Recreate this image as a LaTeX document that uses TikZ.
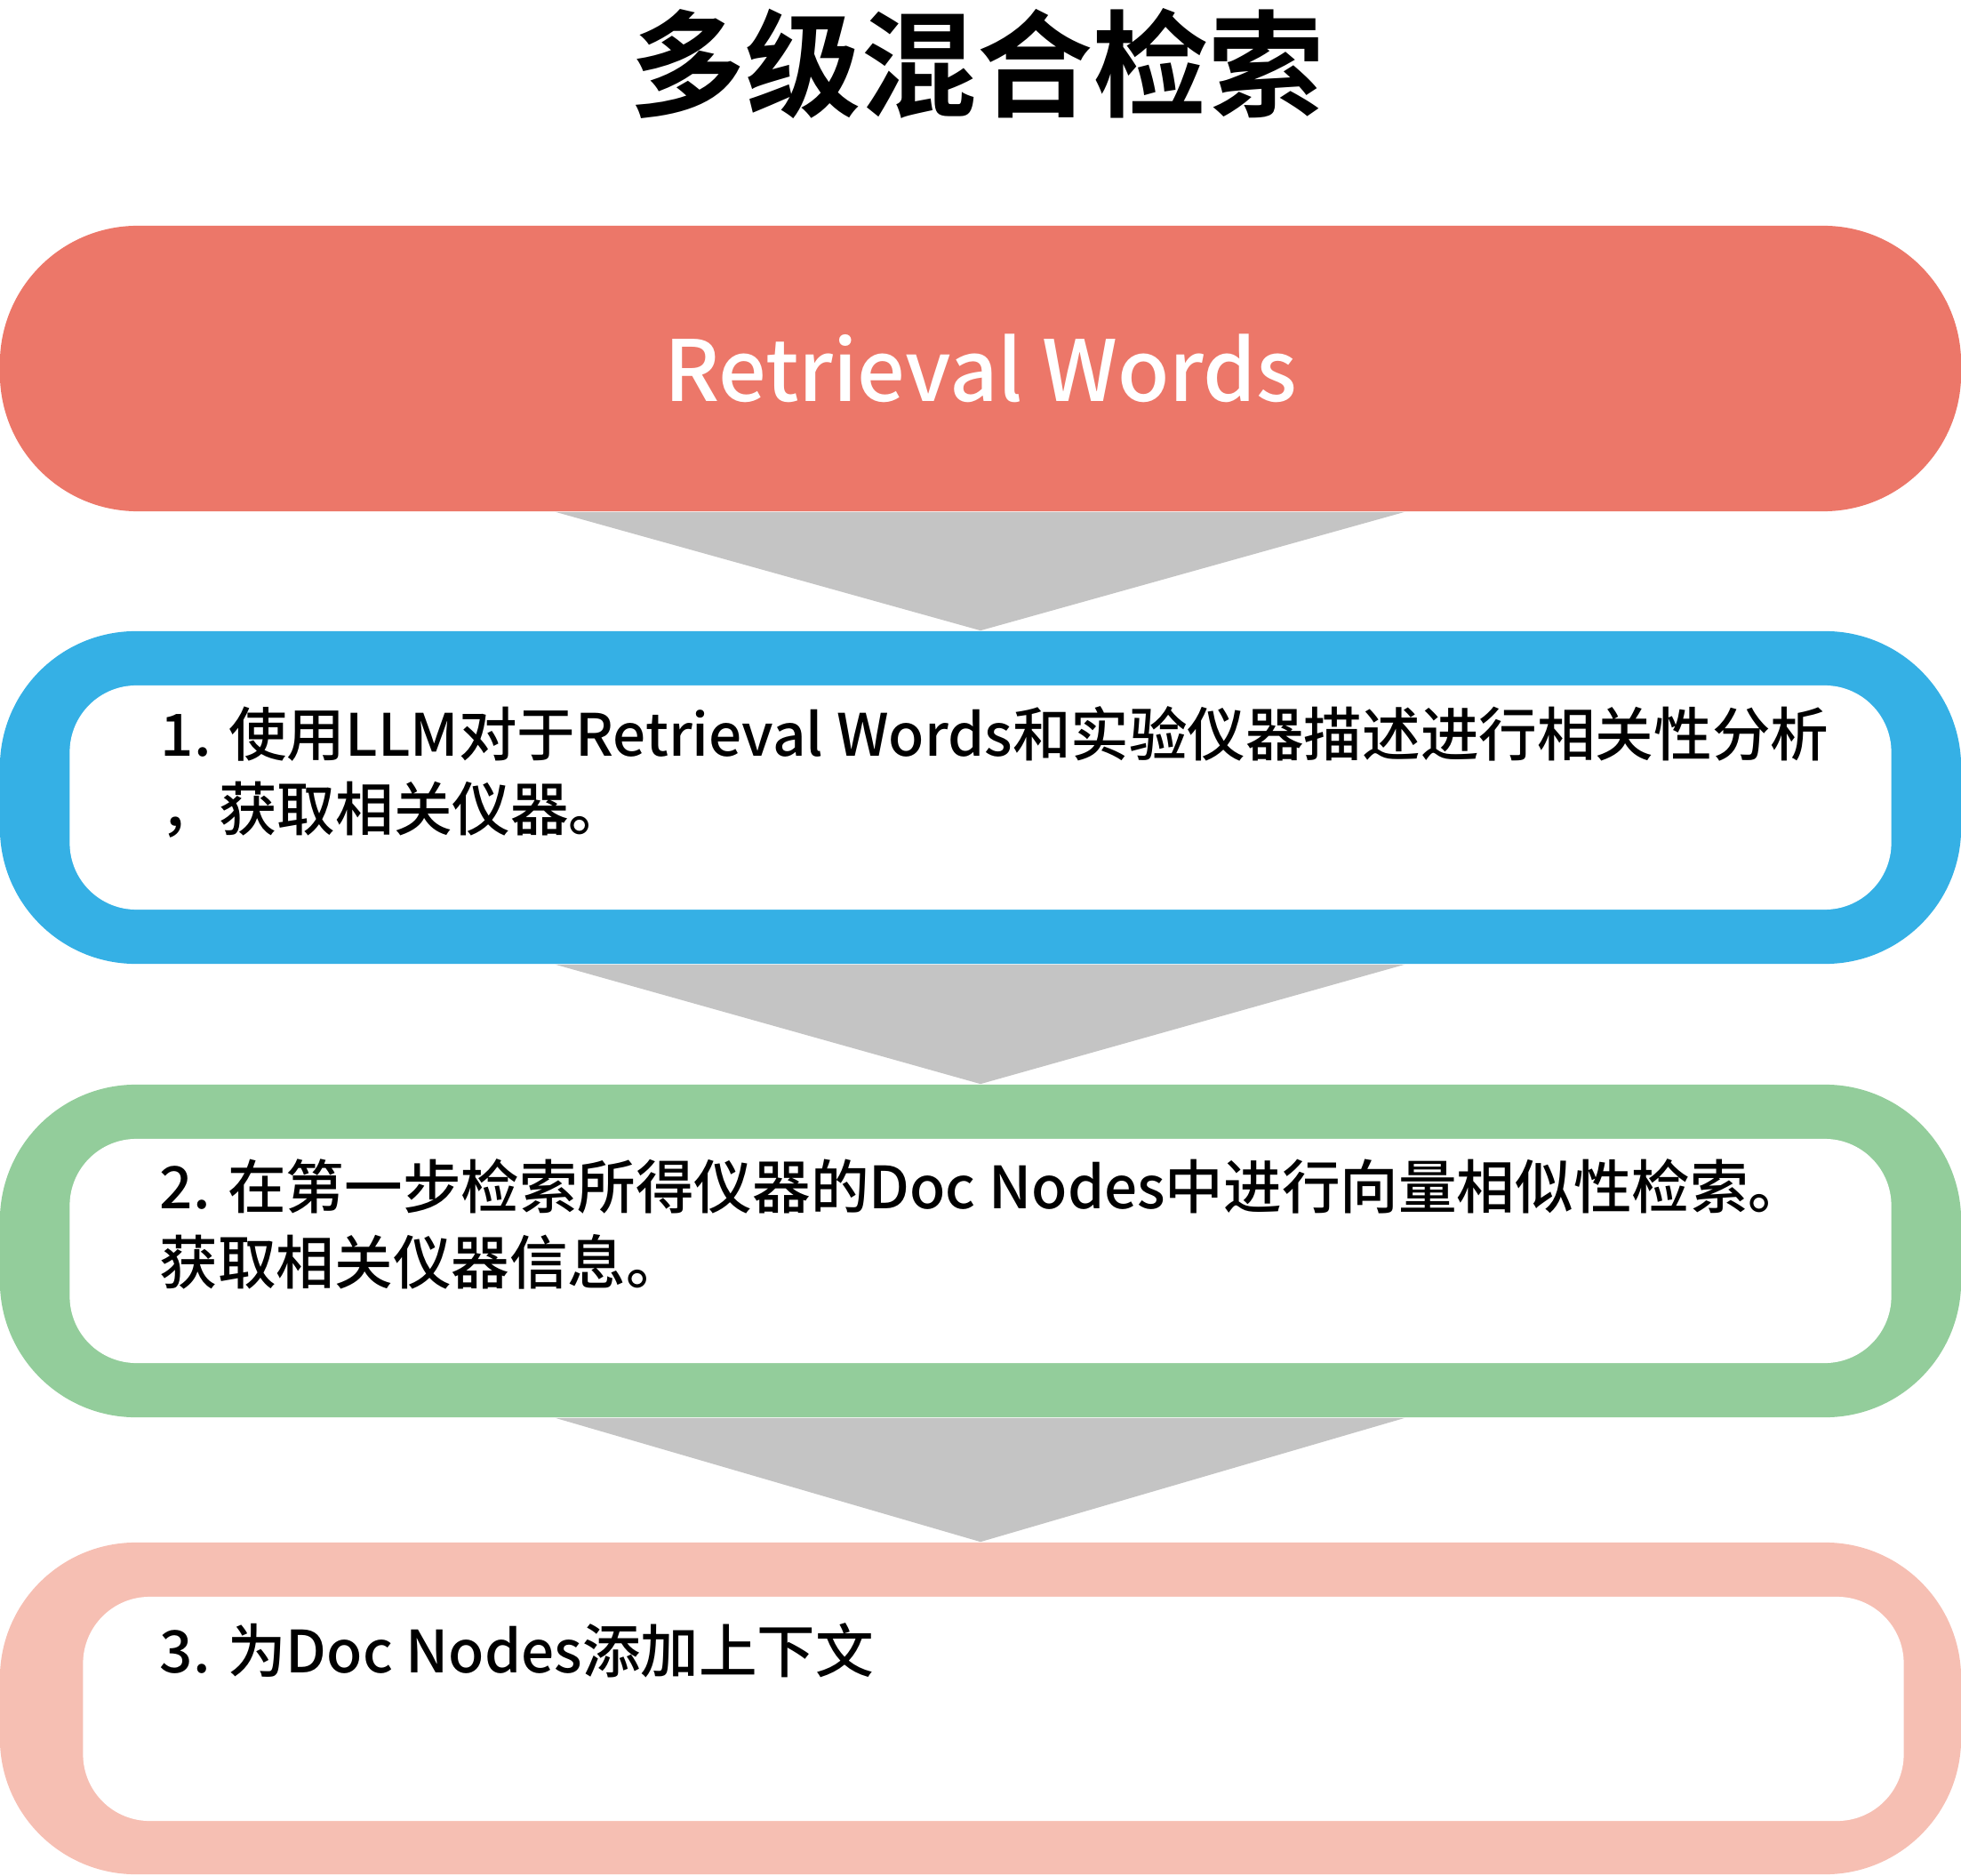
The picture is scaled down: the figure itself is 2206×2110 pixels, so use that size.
\documentclass[tikz,border=0pt]{standalone}
\usepackage{fontspec}
\setmainfont{Noto Sans CJK SC Medium}[BoldFont={Noto Sans CJK SC Bold}]
\usepackage{tikz}
\definecolor{wordsred}{HTML}{EC7769}
\definecolor{stepblue}{HTML}{35B0E5}
\definecolor{stepgreen}{HTML}{93CD9B}
\definecolor{steppink}{HTML}{F6BFB3}
\definecolor{arrowgray}{HTML}{C4C4C4}
\tikzset{
	outer/.style={rectangle,rounded corners=1.53cm,inner sep=0pt,minimum width=22.05cm,minimum height=3.74cm},
	inner/.style={rectangle,rounded corners=0.75cm,fill=white,inner sep=0pt,minimum width=20.48cm,minimum height=2.52cm},
	desc/.style={anchor=base west,align=left,inner sep=0pt,font=\fontsize{18.65pt}{23.9pt}\selectfont},
	funnel/.style={fill=arrowgray}
}

\begin{document}
\begin{tikzpicture}[x=0.01cm,y=-0.01cm]
	\useasboundingbox (0,0) rectangle (2206,2110);
	\node [anchor=base,inner sep=0pt,font=\fontsize{37pt}{37pt}\bfseries\selectfont] (title) at (1099,122) {多级混合检索};

	\node [outer,fill=wordsred,rounded corners=1.55cm,minimum height=3.21cm,text=white,font=\fontsize{27pt}{27pt}\selectfont] (words) at (1103,414.5) {Retrieval Words};

	\node [outer,fill=stepblue] (b1) at (1103,897) {};
	\node [inner] (b1i) at (1103,897) {};
	\node [desc] (t1) at (180,935) {1. 使用LLM对于Retrieval Words和实验仪器描述进行相关性分析\\，获取相关仪器。};

	\node [outer,fill=stepgreen] (b2) at (1103,1407) {};
	\node [inner] (b2i) at (1103,1407) {};
	\node [desc] (t2) at (179,1444) {2. 在第一步检索所得仪器的Doc Nodes中进行向量相似性检索。\\获取相关仪器信息。};

	\node [outer,fill=steppink,minimum height=3.73cm] (b3) at (1103,1921.5) {};
	\node [inner,minimum width=20.47cm] (b3i) at (1117.5,1922) {};
	\node [desc] (t3) at (179,1881) {3. 为Doc Nodes添加上下文};

	\fill [funnel] ([xshift=-4.78cm]words.south) -- ([xshift=4.77cm]words.south) -- (b1.north) -- cycle;
	\fill [funnel] ([xshift=-4.78cm]b1.south) -- ([xshift=4.77cm]b1.south) -- (b2.north) -- cycle;
	\fill [funnel] ([xshift=-4.78cm]b2.south) -- ([xshift=4.77cm]b2.south) -- (b3.north) -- cycle;
\end{tikzpicture}
\end{document}
